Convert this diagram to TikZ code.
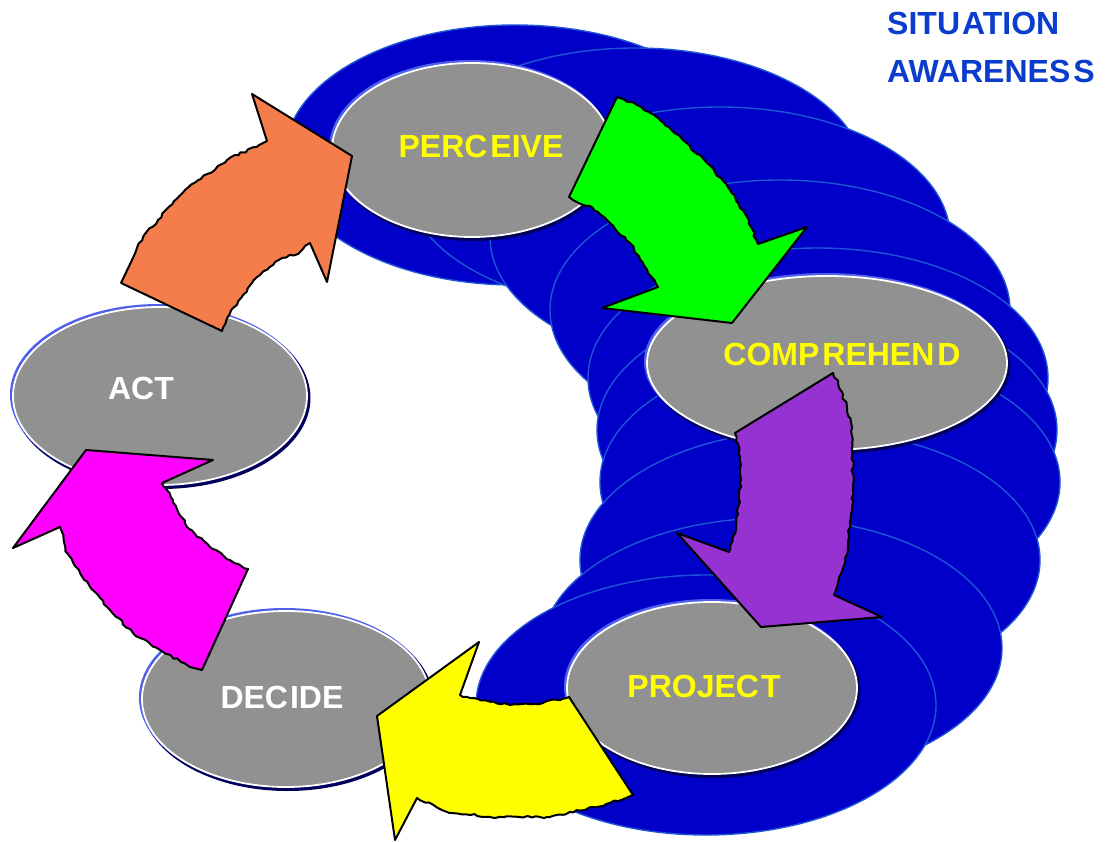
\documentclass[tikz,border=0pt]{standalone}
\usepackage{fontspec}
\setmainfont{Liberation Sans}
\usetikzlibrary{shapes.geometric,decorations.pathmorphing}

\definecolor{coilblue}{RGB}{0,0,200}
\definecolor{coiledge}{RGB}{30,85,215}
\definecolor{ovalgray}{RGB}{145,145,145}
\definecolor{rimlight}{RGB}{80,95,235}
\definecolor{rimdark}{RGB}{0,0,90}
\definecolor{labelyellow}{RGB}{255,255,0}
\definecolor{titleblue}{RGB}{10,60,205}
\definecolor{arrorange}{RGB}{245,125,75}
\definecolor{arrgreen}{RGB}{0,255,0}
\definecolor{arrpurple}{RGB}{150,50,210}
\definecolor{arryellow}{RGB}{255,255,0}
\definecolor{arrmagenta}{RGB}{255,0,255}

\tikzset{
  coil/.style={fill=coilblue, draw=coiledge, line width=1.4pt},
  oval/.style={ellipse, fill=ovalgray, draw=white, line width=1.8pt, inner sep=0pt},
  ovaltext/.style={font=\bfseries\fontsize{32}{38}\selectfont, inner sep=0pt},
  block/.style={draw=black, line width=2pt, line join=round},
  rough/.style={decoration={random steps, segment length=4pt, amplitude=1.2pt}}
}

% oval with bevel rim: name, x, y, x radius, y radius
\newcommand{\rimoval}[5]{%
  \fill[rimdark] (#2+1.5,#3+2) ellipse [x radius=#4+2, y radius=#5+2];
  \fill[rimlight] (#2-1.5,#3-1.5) ellipse [x radius=#4+1.5, y radius=#5+1.5];
  \node[oval, minimum width=2*#4, minimum height=2*#5] (#1) at (#2,#3) {};
}

\begin{document}
\begin{tikzpicture}[x=1pt, y=-1pt]
  \pgfmathsetseed{7}
  \useasboundingbox (0,0) rectangle (1108,842);

  % the blue coil behind the awareness steps
  \foreach \cx/\cy in {515/155, 635/178, 720/237, 780/310, 818/378,
                       827/430, 830/482, 810/560, 772/648, 706/705}
    \filldraw[coil] (\cx,\cy) ellipse [x radius=230, y radius=130];

  % steps
  \rimoval{perceive}{472}{150}{140}{87}
  \rimoval{comprehend}{827}{363}{180}{87}
  \rimoval{project}{712}{688}{145}{86}
  \rimoval{decide}{286}{699}{144}{88}
  \rimoval{act}{160}{396}{147}{89}

  \node[ovaltext, text=labelyellow] (perceive-lbl) at (481,146) {PERC\kern3pt EIVE};
  \node[ovaltext, text=labelyellow] (comprehend-lbl) at (842,354) {COMP\kern3pt REHEN\kern3pt D};
  \node[ovaltext, text=labelyellow] (project-lbl) at (704,686) {PROJEC\kern2pt T};
  \node[ovaltext, text=white] (decide-lbl) at (282,697) {DEC\kern2pt IDE};
  \node[ovaltext, text=white] (act-lbl) at (141,388) {ACT};

  % block arrows round the cycle
  \filldraw[block, fill=arrorange, rough] (121,283) -- (222,331)
    decorate {-- (227,318) -- (252,283) -- (275,262) -- (300,252) -- (310,243)}
    -- (327,282) -- (352,156) -- (252,94) -- (267,141)
    decorate {-- (227,160) -- (185,190) -- (158,220) -- (143,237) -- (132,260)}
    -- cycle;
  \filldraw[block, fill=arrgreen, rough] (617,97)
    decorate {-- (637,105) -- (660,120) -- (683,140) -- (707,163) -- (730,190) -- (747,217) -- (758,244)}
    -- (807,227) -- (732,323) -- (602,308) -- (658,287)
    decorate {-- (643,263) -- (630,243) -- (610,223) -- (593,208) -- (573,200)}
    -- (569,197) -- cycle;
  \filldraw[block, fill=arrpurple, rough] (735,433) -- (833,373)
    decorate {-- (838,383) -- (847,407) -- (852,427) -- (853,490) -- (852,510) -- (845,563) -- (834,595)}
    -- (882,617) -- (761,627) -- (677,533) -- (729,552)
    decorate {-- (736,530) -- (741,480) -- (740,457) -- (735,433)}
    -- cycle;
  \filldraw[block, fill=arryellow, rough] (569,697) -- (633,795)
    decorate {-- (597,807) -- (547,817) -- (490,817) -- (447,812) -- (417,798)}
    -- (395,840) -- (377,716) -- (479,642) -- (460,695)
    decorate {-- (470,698) -- (510,705) -- (543,703) -- (569,697)}
    -- cycle;
  \filldraw[block, fill=arrmagenta, rough] (202,670) -- (248,569)
    decorate {-- (230,560) -- (210,547) -- (187,527) -- (173,500) -- (162,483)}
    -- (213,460) -- (86,450) -- (13,548) -- (60,527)
    decorate {-- (67,553) -- (80,573) -- (107,607) -- (133,633) -- (160,650) -- (190,667)}
    -- cycle;

  % title
  \node[font=\bfseries\fontsize{32}{48}\selectfont, text=titleblue, align=left,
        anchor=north west, inner sep=0pt] (title) at (887,12)
    {SITU\kern2pt ATION\\AWARENES\kern3pt S};
\end{tikzpicture}
\end{document}
